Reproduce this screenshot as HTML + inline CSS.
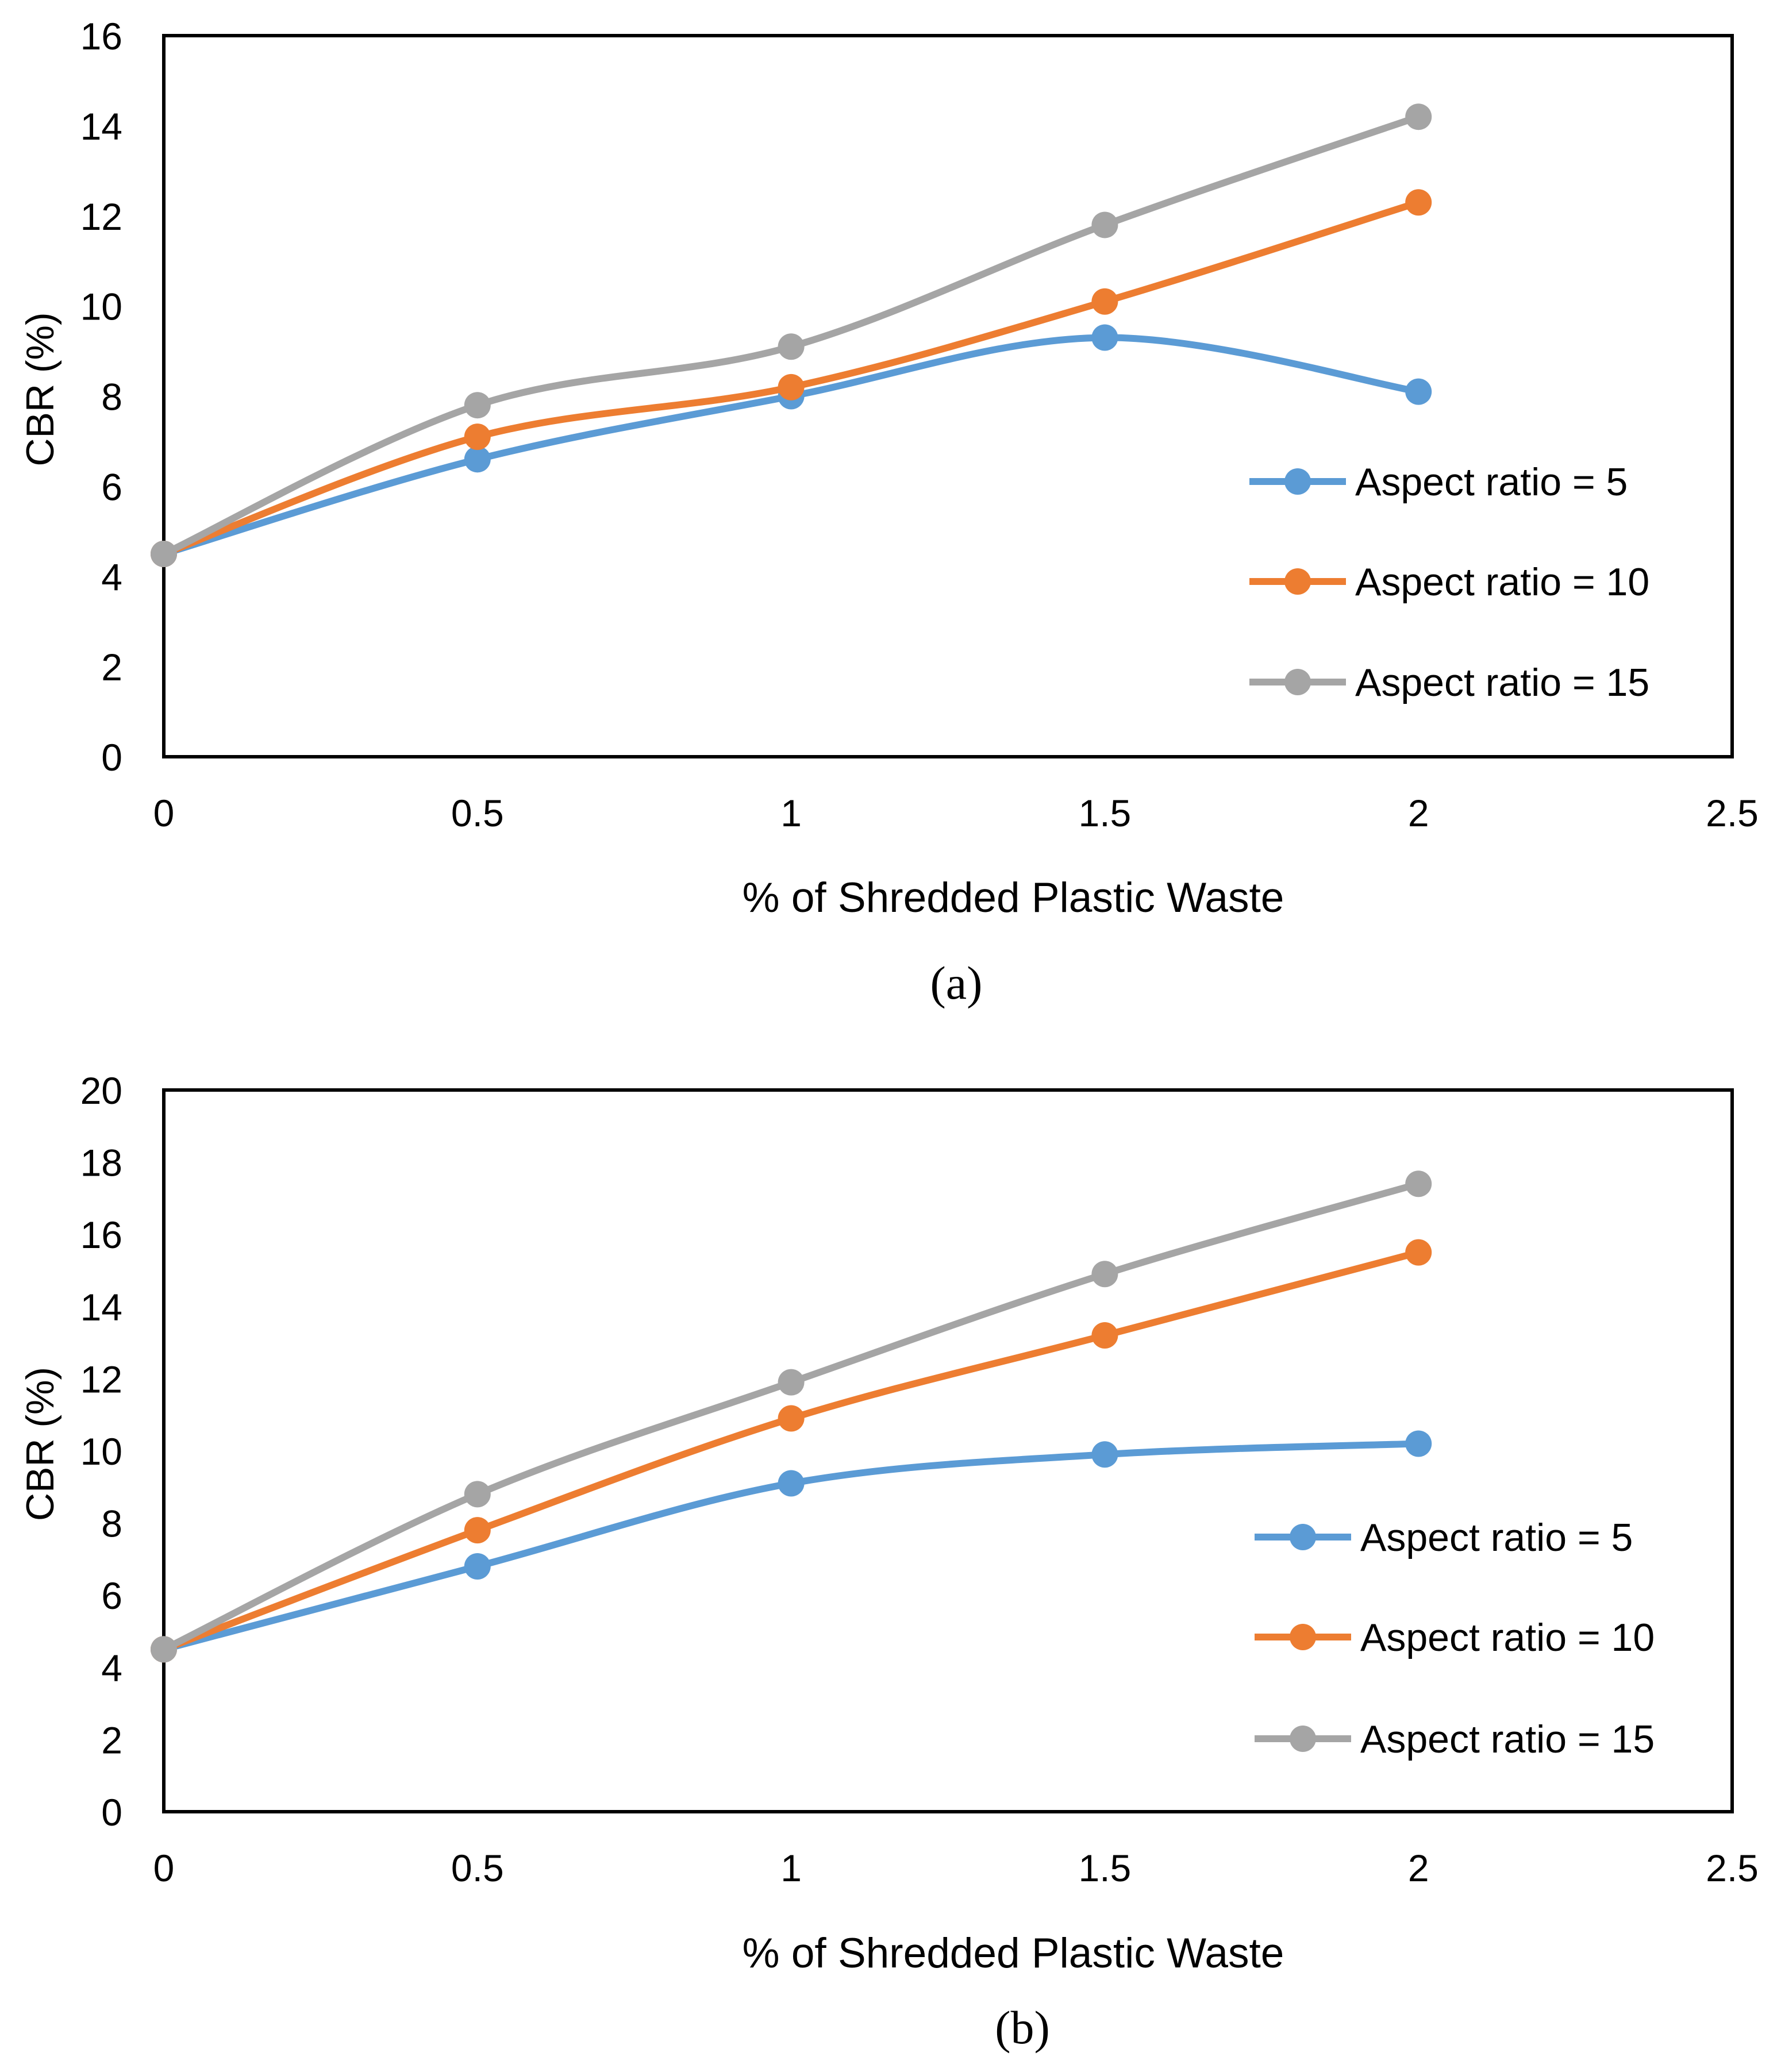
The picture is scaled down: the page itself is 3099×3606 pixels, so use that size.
<!DOCTYPE html>
<html><head><meta charset="utf-8"><style>
html,body{margin:0;padding:0;background:#fff}
svg{display:block}
text{font-family:"Liberation Sans","DejaVu Sans",sans-serif;fill:#000}
</style></head><body>
<svg id="svg" width="3099" height="3606" viewBox="0 0 3099 3606" xmlns="http://www.w3.org/2000/svg"></svg>
<script>
const xCategories = [0, 0.5, 1, 1.5, 2];
const xTicks = [0, 0.5, 1, 1.5, 2, 2.5];
const seriesNames = ["Aspect ratio = 5", "Aspect ratio = 10", "Aspect ratio = 15"];
const aBlue = [4.5, 6.6, 8.0, 9.3, 8.1];
const aOrange = [4.5, 7.1, 8.2, 10.1, 12.3];
const aGrey = [4.5, 7.8, 9.1, 11.8, 14.2];
const bBlue = [4.5, 6.8, 9.1, 9.9, 10.2];
const bOrange = [4.5, 7.8, 10.9, 13.2, 15.5];
const bGrey = [4.5, 8.8, 11.9, 14.9, 17.4];
const aYTicks = [0, 2, 4, 6, 8, 10, 12, 14, 16];
const bYTicks = [0, 2, 4, 6, 8, 10, 12, 14, 16, 18, 20];

const NS = "http://www.w3.org/2000/svg";
const svg = document.getElementById("svg");
const colors = ["#5B9BD5", "#ED7D31", "#A5A5A5"];
function mk(tag, attrs, parent) {
  const e = document.createElementNS(NS, tag);
  for (const k in attrs) e.setAttribute(k, attrs[k]);
  (parent || svg).appendChild(e);
  return e;
}
function smooth(pts) {
  let d = "M" + pts[0][0] + "," + pts[0][1];
  for (let i = 0; i < pts.length - 1; i++) {
    const p0 = pts[i - 1] || pts[i], p1 = pts[i], p2 = pts[i + 1], p3 = pts[i + 2] || p2;
    const t = 1 / 6;
    const c1 = [p1[0] + (p2[0] - p0[0]) * t, p1[1] + (p2[1] - p0[1]) * t];
    const c2 = [p2[0] - (p3[0] - p1[0]) * t, p2[1] - (p3[1] - p1[1]) * t];
    d += " C" + c1 + " " + c2 + " " + p2;
  }
  return d;
}
function chart(id, top, bottom, yMax, yTicks, series, legY, legX, xTitleY, capY, capX, capText) {
  const left = 285, right = 3014;
  const g = mk("g", {});
  
  
  const xs = v => left + (v / 2.5) * (right - left);
  const ys = v => bottom - (v / yMax) * (bottom - top);
  const frame = mk("rect", {x: left, y: top, width: right - left, height: bottom - top, fill: "none", stroke: "#000", "stroke-width": 6}, g);
  
  
  yTicks.forEach(v => {
    const t = mk("text", {x: 213, y: ys(v) + 24, "text-anchor": "end", "font-size": 66}, g);
    t.textContent = v;
    
    
  });
  xTicks.forEach(v => {
    const t = mk("text", {x: xs(v), y: bottom + 121, "text-anchor": "middle", "font-size": 66}, g);
    t.textContent = v;
    
    
  });
  const xt = mk("text", {x: 1763, y: xTitleY + 26, "text-anchor": "middle", "font-size": 73}, g);
  xt.textContent = "% of Shredded Plastic Waste";
  
  
  const cy = (top + bottom) / 2 - 12;
  const yt = mk("text", {x: 69, y: cy, "text-anchor": "middle", "font-size": 68, transform: "rotate(-90 69 " + cy + ") translate(0 24)"}, g);
  yt.textContent = "CBR (%)";
  
  
  series.forEach((vals, si) => {
    const pts = xCategories.map((c, i) => [xs(c), ys(vals[i])]);
    const p = mk("path", {d: smooth(pts), fill: "none", stroke: colors[si], "stroke-width": 12, "stroke-linecap": "round"}, g);
    
    
    pts.forEach(pt => {
      const c = mk("circle", {cx: pt[0], cy: pt[1], r: 23, fill: colors[si]}, g);
      
      
    });
  });
  seriesNames.forEach((n, si) => {
    const y = legY[si];
    const l = mk("line", {x1: legX, x2: legX + 168, y1: y, y2: y, stroke: colors[si], "stroke-width": 12}, g);
    
    
    const c = mk("circle", {cx: legX + 84, cy: y, r: 23, fill: colors[si]}, g);
    
    
    const t = mk("text", {x: legX + 184, y: y + 24, "font-size": 68}, g);
    t.textContent = n;
    
    
  });
  const cap = mk("text", {x: capX, y: capY + 28, "text-anchor": "middle", "font-size": 82, style: 'font-family:"Liberation Serif",serif'}, g);
  cap.textContent = capText;
  
  
}
chart("a", 62, 1317, 16, aYTicks, [aBlue, aOrange, aGrey], [838, 1012, 1187], 2174, 1561, 1710, 1664, "(a)");
chart("b", 1897, 3153, 20, bYTicks, [bBlue, bOrange, bGrey], [2675, 2849, 3026], 2183, 3398, 3528, 1779, "(b)");
</script>
</body></html>
